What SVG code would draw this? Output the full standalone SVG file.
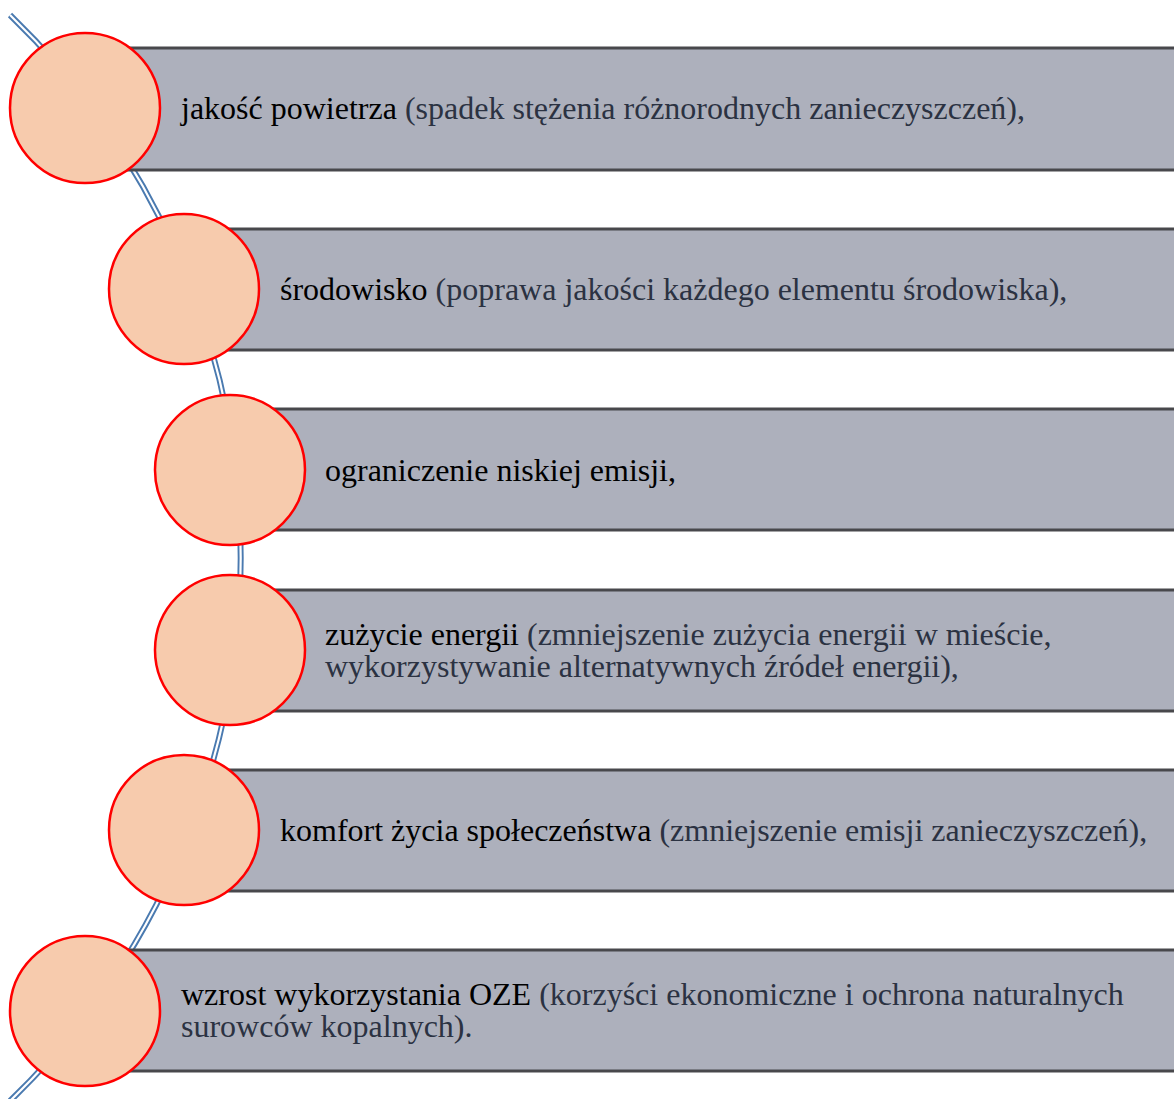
<svg xmlns="http://www.w3.org/2000/svg" width="1174" height="1099" viewBox="0 0 1174 1099">
<style>
.bar{fill:#adb0bc;}
.edge{stroke:#48484c;stroke-width:3;fill:none;}
.dot{fill:#f7cbad;stroke:#ff0000;stroke-width:2.5;}
.t{font-family:"Liberation Serif","Times New Roman",serif;font-size:32px;fill:#000;}
.p{fill:#2b3242;}
.arcO{fill:none;stroke:#4a7ab0;stroke-width:6;}
.arcI{fill:none;stroke:#ffffff;stroke-width:2.2;}
</style>
<rect width="1174" height="1099" fill="#ffffff"/>
<g id="connectors">
<path class="arcO" d="M 10,15 A 754.4 754.4 0 0 1 10,1101"/>
<path class="arcI" d="M 10,15 A 754.4 754.4 0 0 1 10,1101"/>
</g>
<g id="node1">
<rect class="bar" x="85" y="48" width="1095" height="122"/>
<line class="edge" x1="85" y1="48" x2="1180" y2="48"/>
<line class="edge" x1="85" y1="170" x2="1180" y2="170"/>
<circle class="dot" cx="85" cy="108" r="75"/>
<text class="t" x="181" y="119">jakość powietrza <tspan class="p">(spadek stężenia różnorodnych zanieczyszczeń),</tspan></text>
</g>
<g id="node2">
<rect class="bar" x="184" y="229" width="996" height="121"/>
<line class="edge" x1="184" y1="229" x2="1180" y2="229"/>
<line class="edge" x1="184" y1="350" x2="1180" y2="350"/>
<circle class="dot" cx="184" cy="289" r="75"/>
<text class="t" x="280" y="300">środowisko <tspan class="p">(poprawa jakości każdego elementu środowiska),</tspan></text>
</g>
<g id="node3">
<rect class="bar" x="230" y="409" width="950" height="121"/>
<line class="edge" x1="230" y1="409" x2="1180" y2="409"/>
<line class="edge" x1="230" y1="530" x2="1180" y2="530"/>
<circle class="dot" cx="230" cy="470" r="75"/>
<text class="t" x="325" y="481">ograniczenie niskiej emisji,</text>
</g>
<g id="node4">
<rect class="bar" x="230" y="590" width="950" height="121"/>
<line class="edge" x1="230" y1="590" x2="1180" y2="590"/>
<line class="edge" x1="230" y1="711" x2="1180" y2="711"/>
<circle class="dot" cx="230" cy="650" r="75"/>
<text class="t" x="325" y="645">zużycie energii <tspan class="p">(zmniejszenie zużycia energii w mieście,</tspan></text>
<text class="t p" x="325" y="677">wykorzystywanie alternatywnych źródeł energii),</text>
</g>
<g id="node5">
<rect class="bar" x="184" y="770" width="996" height="121"/>
<line class="edge" x1="184" y1="770" x2="1180" y2="770"/>
<line class="edge" x1="184" y1="891" x2="1180" y2="891"/>
<circle class="dot" cx="184" cy="830" r="75"/>
<text class="t" x="280" y="841">komfort życia społeczeństwa <tspan class="p">(zmniejszenie emisji zanieczyszczeń),</tspan></text>
</g>
<g id="node6">
<rect class="bar" x="85" y="950" width="1095" height="121"/>
<line class="edge" x1="85" y1="950" x2="1180" y2="950"/>
<line class="edge" x1="85" y1="1071" x2="1180" y2="1071"/>
<circle class="dot" cx="85" cy="1011" r="75"/>
<text class="t" x="181" y="1005">wzrost wykorzystania OZE <tspan class="p">(korzyści ekonomiczne i ochrona naturalnych</tspan></text>
<text class="t p" x="181" y="1037">surowców kopalnych).</text>
</g>
</svg>
